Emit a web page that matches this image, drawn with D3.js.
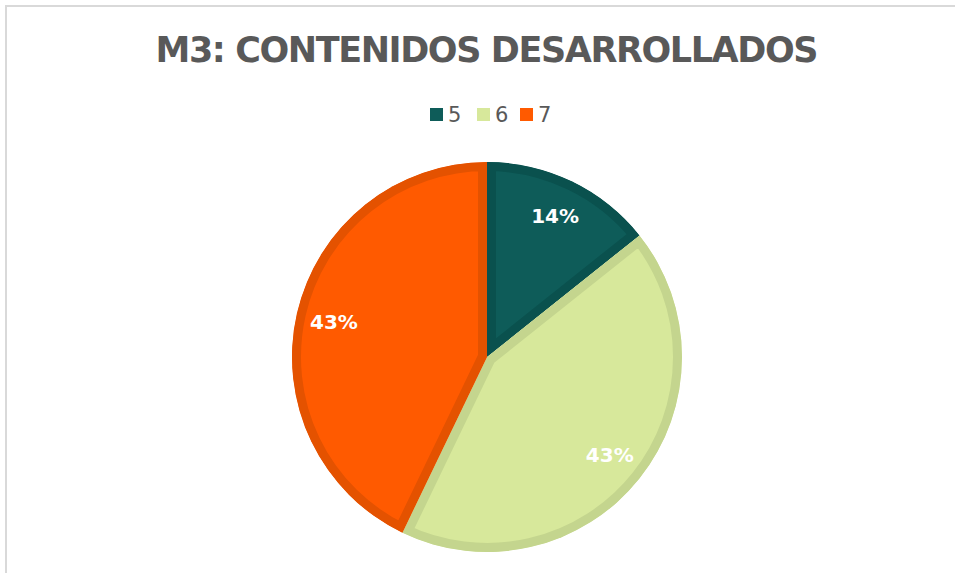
<!DOCTYPE html>
<html><head><meta charset="utf-8">
<script src="https://cdn.jsdelivr.net/npm/d3@7"></script>
<style>html,body{margin:0;padding:0;background:#fff;}svg{display:block;}</style>
</head><body>
<svg id="c" width="955" height="573"></svg>
<script>
const title = "M3: CONTENIDOS DESARROLLADOS";
const categories = ["5", "6", "7"];
const values = [1, 3, 3];
const fills = ["#0e5c59", "#d7e89b", "#ff5a00"];
const strokes = ["#0a514e", "#c4d58e", "#e45200"];

const svg = d3.select("#c");
const W = 955, H = 573;
svg.append("rect").attr("width", W).attr("height", H).attr("fill", "#fff");
// frame
svg.append("path").attr("d", "M6,580 L6,6 L960,6").attr("fill", "none").attr("stroke", "#d9d9d9").attr("stroke-width", 2);

const font = "'DejaVu Sans', sans-serif";
const t = svg.append("text").attr("x", 487).attr("y", 62).attr("text-anchor", "middle")
  .attr("font-family", font).attr("font-weight", "bold").attr("font-size", 35)
  .attr("fill", "#595959").text(title);
const tl = t.node().getComputedTextLength();
const ls = (663 - tl) / (title.length - 1);
t.attr("letter-spacing", ls).attr("x", 487 + ls / 2);

// legend
const legX = [430, 477, 520];
const lg = svg.append("g");
categories.forEach((c, i) => {
  lg.append("rect").attr("x", legX[i]).attr("y", 108).attr("width", 13).attr("height", 13).attr("fill", fills[i]);
  lg.append("text").attr("x", legX[i] + 18).attr("y", 122).attr("font-family", font).attr("font-size", 21)
    .attr("fill", "#595959").text(c);
});

const cx = 487, cy = 357, R = 195;
const pie = d3.pie().sort(null).value(d => d)(values);
const arc = d3.arc().innerRadius(0).outerRadius(R);
const g = svg.append("g").attr("transform", `translate(${cx},${cy})`);
const defs = svg.append("defs");
pie.forEach((p, i) => {
  defs.append("clipPath").attr("id", "cl" + i).append("path").attr("d", arc(p));
  g.append("path").attr("d", arc(p)).attr("fill", fills[i]).attr("stroke", strokes[i])
    .attr("stroke-width", 18).attr("stroke-linejoin", "miter").attr("clip-path", `url(#cl${i})`);
});
const total = d3.sum(values);
const labelArc = d3.arc().innerRadius(157).outerRadius(157);
pie.forEach((p, i) => {
  const [x, y] = labelArc.centroid(p);
  g.append("text").attr("x", x).attr("y", y).attr("dy", "0.36em").attr("text-anchor", "middle")
    .attr("font-family", font).attr("font-weight", "bold").attr("font-size", 20).attr("fill", "#fff")
    .text(Math.round(values[i] / total * 100) + "%");
});
</script>
</body></html>
